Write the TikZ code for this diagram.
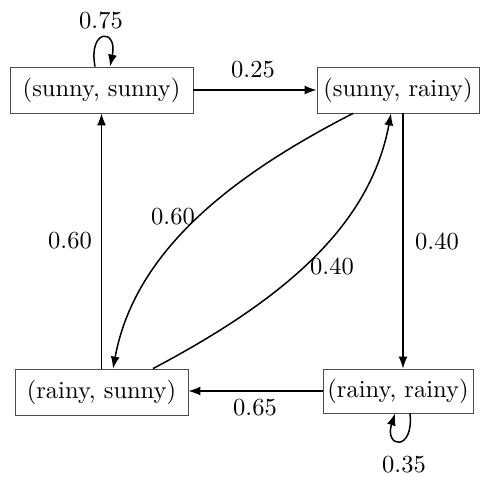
\documentclass[tikz,border=0pt]{standalone}
\usepackage{fontspec}
\setmainfont{lmroman10-regular.otf}
\usetikzlibrary{arrows.meta,calc}
\begin{document}
\begin{tikzpicture}[x=1pt,y=-1pt,
  every node/.style={font=\fontsize{24.5}{29}\selectfont},
  state/.style={draw=black!70,line width=0.8pt,minimum height=46pt,inner sep=0pt},
  lbl/.style={inner sep=0pt},
  edge/.style={line width=1.5pt,-{Latex[length=12pt,width=9pt]}}]
\useasboundingbox (0,0) rectangle (480,477);
\node[state,minimum width=183pt] (ss) at (101.5,90) {(sunny, sunny)};
\node[state,minimum width=162pt] (sr) at (398,90) {(sunny, rainy)};
\node[state,minimum width=173pt] (rs) at (101.5,392) {(rainy, sunny)};
\node[state,minimum width=150pt,minimum height=44pt] (rr) at (398,391) {(rainy, rainy)};
% straight edges
\draw[edge] (ss.east) -- (ss.east -| sr.west);
\draw[edge] (rr.west) -- (rr.west -| rs.east);
\draw[edge] (rs.north -| ss.south) -- (ss.south);
\coordinate (vr1) at ($(sr.south)+(5,0)$);
\draw[edge] (vr1) -- (vr1 |- rr.north);
% curved edges
\draw[edge] ($(sr.south)+(-45,0)$) .. controls (233,175) and (135,250) .. ($(rs.north)+(11.5,0)$);
\draw[edge] ($(rs.north)+(51.5,0)$) .. controls (273,305) and (369,232) .. ($(sr.south)+(-7,0)$);
% self loops
\draw[edge] ($(ss.north)+(-6.5,0)$) .. controls (88,28) and (118,28) .. ($(ss.north)+(8.5,0)$);
\draw[edge] ($(rr.south)+(12,0)$) .. controls (414,452) and (384,448) .. ($(rr.south)+(-3,0)$);
% labels
\node[lbl] (l75) at (101,20) {0.75};
\node[lbl] (l25) at (253,70) {0.25};
\node[lbl] (l60a) at (70,241) {0.60};
\node[lbl] (l40a) at (437,241) {0.40};
\node[lbl] (l60b) at (173,217) {0.60};
\node[lbl] (l40b) at (332,266) {0.40};
\node[lbl] (l65) at (255,408) {0.65};
\node[lbl] (l35) at (404,465) {0.35};
\end{tikzpicture}
\end{document}
